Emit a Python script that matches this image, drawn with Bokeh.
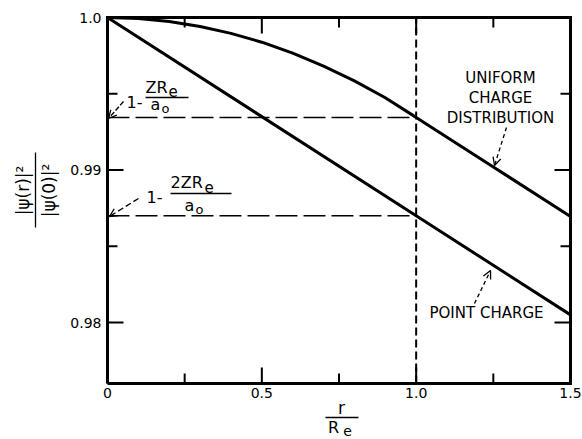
import math
from bokeh.plotting import figure
from bokeh.models import Label, Arrow, OpenHead, Range1d
from bokeh.core.properties import value
from bokeh.embed import file_html
from bokeh.resources import INLINE

# ---- data ----
r_uniform = [0.0, 0.1, 0.2, 0.3, 0.4, 0.5, 0.6, 0.7, 0.8, 0.9, 1.0, 1.25, 1.5]
psi_uniform = [1.0, 0.99994, 0.99974, 0.99941, 0.99896, 0.99838, 0.99766,
               0.99681, 0.99584, 0.99474, 0.99345, 0.99020, 0.98695]
r_point = [0.0, 1.0, 1.5]
psi_point = [1.0, 0.9870, 0.9805]

x_major = [0.0, 0.5, 1.0, 1.5]
x_minor = [0.25, 0.75, 1.25]
x_labels = ["0", "0.5", "1.0", "1.5"]
y_major = [0.98, 0.99, 1.0]
y_minor = [0.985, 0.995]
y_labels = ["0.98", "0.99", "1.0"]
x_lim = (0.0, 1.5)
y_lim = (0.976, 1.0)
r_ref = 1.0

FONT = "DejaVu Sans"
W, H = 582, 439

# ---- layout: the plot box spans these page pixels ----
BOX_L, BOX_R, BOX_T, BOX_B = 107, 570, 17, 383
SX = (BOX_R - BOX_L) / (x_lim[1] - x_lim[0])   # px per x unit
SY = (BOX_B - BOX_T) / (y_lim[1] - y_lim[0])   # px per y unit


def X(px):
    return x_lim[0] + (px - BOX_L) / SX


def Y(py):
    return y_lim[1] - (py - BOX_T) / SY


p = figure(width=W, height=H, output_backend="svg", toolbar_location=None,
           x_range=Range1d(X(0), X(W)), y_range=Range1d(Y(H), Y(0)),
           x_axis_type=None, y_axis_type=None,
           min_border=0, min_border_left=0, min_border_right=0,
           min_border_top=0, min_border_bottom=0)
p.grid.visible = False
p.outline_line_color = None
p.background_fill_color = "white"
p.border_fill_color = "white"

# ---- plot box (drawn from the axis limits) ----
p.line([x_lim[0], x_lim[1], x_lim[1], x_lim[0], x_lim[0]],
       [y_lim[0], y_lim[0], y_lim[1], y_lim[1], y_lim[0]],
       line_color="black", line_width=3, line_join="miter")

MAJ, MIN = 16, 10
# x ticks bottom and top (inward)
for ticks, L in ((x_major, MAJ), (x_minor, MIN)):
    n = len(ticks)
    p.segment(x0=ticks, y0=[y_lim[0]] * n, x1=ticks, y1=[y_lim[0] + L / SY] * n,
              line_color="black", line_width=2)
    p.segment(x0=ticks, y0=[y_lim[1]] * n, x1=ticks, y1=[y_lim[1] - L / SY] * n,
              line_color="black", line_width=2)
# y ticks left and right (inward)
for ticks, L in ((y_major, MAJ), (y_minor, MIN)):
    n = len(ticks)
    p.segment(x0=[x_lim[0]] * n, y0=ticks, x1=[x_lim[0] + L / SX] * n, y1=ticks,
              line_color="black", line_width=2)
    p.segment(x0=[x_lim[1]] * n, y0=ticks, x1=[x_lim[1] - L / SX] * n, y1=ticks,
              line_color="black", line_width=2)

# tick labels
p.text(x=x_major, y=[y_lim[0]] * len(x_major), text=x_labels,
       text_font=value(FONT), text_font_size="14px", text_align="center",
       text_baseline="top", y_offset=4, text_color="black")
p.text(x=[x_lim[0]] * len(y_major), y=y_major, text=y_labels,
       text_font=value(FONT), text_font_size="14px", text_align="right",
       text_baseline="middle", x_offset=-6, text_color="black")

# ---- curves ----
p.line(r_uniform, psi_uniform, line_color="black", line_width=3)
p.line(r_point, psi_point, line_color="black", line_width=3)

# reference dashed lines at r = R_e
i_u = r_uniform.index(r_ref)
i_p = r_point.index(r_ref)
levels = [psi_uniform[i_u], psi_point[i_p]]
p.segment(x0=[x_lim[0]] * 2, y0=levels, x1=[r_ref] * 2, y1=levels,
          line_color="black", line_width=1.5, line_dash="22 6")
p.segment(x0=[r_ref], y0=[y_lim[0]], x1=[r_ref], y1=[y_lim[1]],
          line_color="black", line_width=2, line_dash="8 4")


# ---- annotations ----
def txt(s, px, py, size=14, align="center", angle=0.0):
    p.add_layout(Label(x=X(px), y=Y(py), text=s, text_font=FONT,
                       text_font_size=f"{size}px", text_align=align,
                       text_baseline="middle", text_color="black", angle=angle))


def bar(x0, y0, x1, y1, w=1.5):
    p.add_layout(Arrow(x_start=X(x0), y_start=Y(y0), x_end=X(x1), y_end=Y(y1),
                       end=None, line_color="black", line_width=w))


def arrow(x0, y0, x1, y1, dash="4 3"):
    p.add_layout(Arrow(x_start=X(x0), y_start=Y(y0), x_end=X(x1), y_end=Y(y1),
                       line_color="black", line_width=1.3, line_dash=dash,
                       end=OpenHead(size=8, line_width=1.3, line_color="black")))


# 1 - Z Re / a0
txt("1-", 126, 101, 16, align="left")
txt("ZR", 145, 87, 16, align="left")
txt("e", 168, 90, 15, align="left")
bar(145, 97, 188, 97)
txt("a", 150, 104, 16, align="left")
txt("o", 161, 108, 13, align="left")
arrow(123, 101, 108, 118, dash="5 2")

# 1 - 2 Z Re / a0
txt("1-", 146, 196, 16, align="left")
txt("2ZR", 170, 182, 16, align="left")
txt("e", 204, 186, 15, align="left")
bar(170, 193, 231, 193)
txt("a", 184, 205, 16, align="left")
txt("o", 195, 209, 13, align="left")
arrow(138, 198, 109, 216, dash="6 3")

# curve labels
txt("UNIFORM", 500, 77, 15)
txt("CHARGE", 500, 97, 15)
txt("DISTRIBUTION", 500, 117, 15)
arrow(506, 127, 494, 165)
txt("POINT CHARGE", 486, 312, 15)
arrow(474, 303, 490, 270)

# x-axis label  r / Re
txt("r", 341, 407, 17)
bar(325, 417, 358, 417, 1.3)
txt("R", 333, 427, 16)
txt("e", 347, 430, 14)

# y-axis label |psi(r)|^2 / |psi(0)|^2 (rotated)
txt("|\u03c8(r)|\u00b2", 22, 190, 17, angle=math.pi / 2)
bar(35, 152, 35, 227, 1.3)
txt("|\u03c8(0)|\u00b2", 48, 190, 17, angle=math.pi / 2)

open("out.html", "w").write(file_html(p, INLINE))
